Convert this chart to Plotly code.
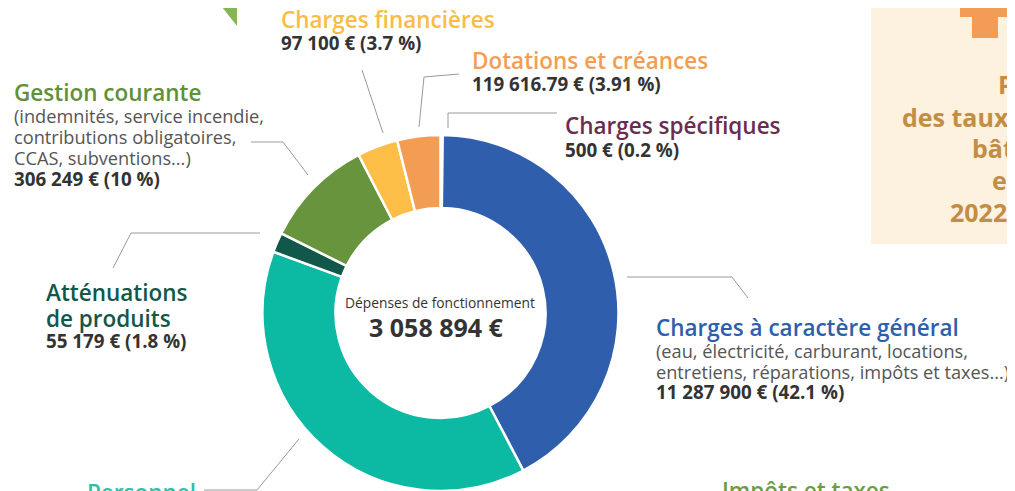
import plotly.graph_objects as go

categories = [
    "Charges spécifiques",
    "Charges à caractère général",
    "Personnel",
    "Atténuations de produits",
    "Gestion courante",
    "Charges financières",
    "Dotations et créances",
]
percents = [0.2, 42.1, 38.29, 1.8, 10, 3.7, 3.91]
amounts = ["500 €", "11 287 900 €", "", "55 179 €", "306 249 €", "97 100 €", "119 616.79 €"]
pct_labels = ["0.2 %", "42.1 %", "", "1.8 %", "10 %", "3.7 %", "3.91 %"]
slice_colors = ["#6b2d4d", "#2f5fac", "#0cb9a2", "#11584a", "#67943c", "#fcbe47", "#f39d54"]
total_label = "3 058 894 €"

# la page HTML garde la marge de 8 px du <body> : on décale tout
OFF = 8
W, H = 1015 - OFF, 491 - OFF
FONT = "Open Sans"
DARK = "#333333"
GREY = "#555555"
LINE = "#9a9a9a"

T_SIZE = 22.5   # titres
D_SIZE = 18.2   # descriptions
V_SIZE = 18.8   # montants


def px(x):
    return (x - OFF) / W


def py(y):
    return 1 - (y - OFF) / H


fig = go.Figure()

# donut centré en (440, 313), rayon ~178 px (coordonnées de l'image)
cx, cy, R = 440.5, 313, 178
fig.add_trace(go.Pie(
    labels=categories,
    values=percents,
    marker=dict(colors=slice_colors, line=dict(color="white", width=2.5)),
    hole=0.59,
    sort=False,
    direction="clockwise",
    rotation=0,
    textinfo="none",
    showlegend=False,
    domain=dict(x=[px(cx - R), px(cx + R)], y=[max(0, py(cy + R)), py(cy - R)]),
))

annotations = []


def txt(x, y, s, size, color, weight=400, anchor="left"):
    annotations.append(dict(
        x=px(x), y=py(y), xref="paper", yref="paper", text=s, showarrow=False,
        xanchor=anchor, yanchor="middle",
        font=dict(family=FONT, size=size, color=color, weight=weight),
    ))


def value_line(i):
    return f"{amounts[i]} ({pct_labels[i]})"


# Gestion courante
txt(12, 92, categories[4], T_SIZE, "#5f9139", 600)
txt(12, 116, "(indemnités, service incendie,", D_SIZE, GREY)
txt(12, 137, "contributions obligatoires,", D_SIZE, GREY)
txt(12, 158, "CCAS, subventions...)", D_SIZE, GREY)
txt(12, 179, value_line(4), V_SIZE, DARK, 700)

# Charges financières
txt(279, 19, categories[5], T_SIZE, "#fbbc45", 600)
txt(279, 43, value_line(5), V_SIZE, DARK, 700)

# Dotations et créances
txt(470, 60, categories[6], T_SIZE, "#f39d54", 600)
txt(470, 84, value_line(6), V_SIZE, DARK, 700)

# Charges spécifiques
txt(563, 126, categories[0], T_SIZE, "#6b2d4d", 600)
txt(563, 150, value_line(0), V_SIZE, DARK, 700)

# Atténuations de produits
txt(44, 292, "Atténuations", T_SIZE, "#11584a", 600)
txt(44, 318, "de produits", T_SIZE, "#11584a", 600)
txt(44, 341, value_line(3), V_SIZE, DARK, 700)

# Charges à caractère général
txt(654, 327, categories[1], T_SIZE, "#2f5fac", 600)
txt(654, 351, "(eau, électricité, carburant, locations,", D_SIZE, GREY)
txt(654, 372, "entretiens, réparations, impôts et taxes...)", D_SIZE, GREY)
txt(654, 392, value_line(1), V_SIZE, DARK, 700)

# libellés coupés en bas
txt(85, 492, categories[2], T_SIZE, "#2ebfa8", 600)
txt(720, 490, "Impôts et taxes", T_SIZE, "#6a9e40", 600)

# centre du donut
txt(cx - 1, 302, "Dépenses de fonctionnement", 13.8, DARK, 400, "center")
txt(cx - 4, 327, total_label, 25, DARK, 700, "center")

# encadré beige à droite
for x, y, s in [(996, 84, "P"), (900, 117, "des taux"), (970, 148, "bât"),
                (990, 180, "en"), (948, 212, "2022")]:
    txt(x, y, s, 25, "#c48d45", 700)

shapes = []


def path(points, color=LINE, width=1, fill=None):
    d = "M " + " L ".join(f"{px(x)},{py(y)}" for x, y in points)
    if fill:
        d += " Z"
    shapes.append(dict(type="path", path=d, xref="paper", yref="paper",
                       line=dict(color=color, width=width if not fill else 0),
                       fillcolor=fill, layer="below" if fill else "above"))


# fond beige + croix orange
path([(871, 0), (1015, 0), (1015, 244), (871, 244)], fill="#fdf1e0")
path([(960, 0), (1015, 0), (1015, 17), (960, 17)], fill="#f39c55")
path([(972, 0), (998, 0), (998, 38), (972, 38)], fill="#f39c55")

# bulle verte en haut à gauche
path([(16, 0), (237, 0), (237, 26), (222, 7), (16, 7)], fill="#86b556")

# traits de rappel
path([(251, 142), (283, 142), (308, 175)])
path([(362, 70), (383, 133)])
path([(459, 74), (424, 77), (419, 127)])
path([(557, 113), (448, 113), (448, 128)])
path([(627, 277), (732, 277), (748, 298)])
path([(260, 233), (131, 233), (113, 268)])
path([(299, 439), (257, 490), (204, 490)])

fig.update_layout(
    width=W, height=H,
    margin=dict(l=0, r=0, t=0, b=0),
    paper_bgcolor="white",
    plot_bgcolor="white",
    annotations=annotations,
    shapes=shapes,
    font=dict(family=FONT),
)

fig.write_html("out.html")
